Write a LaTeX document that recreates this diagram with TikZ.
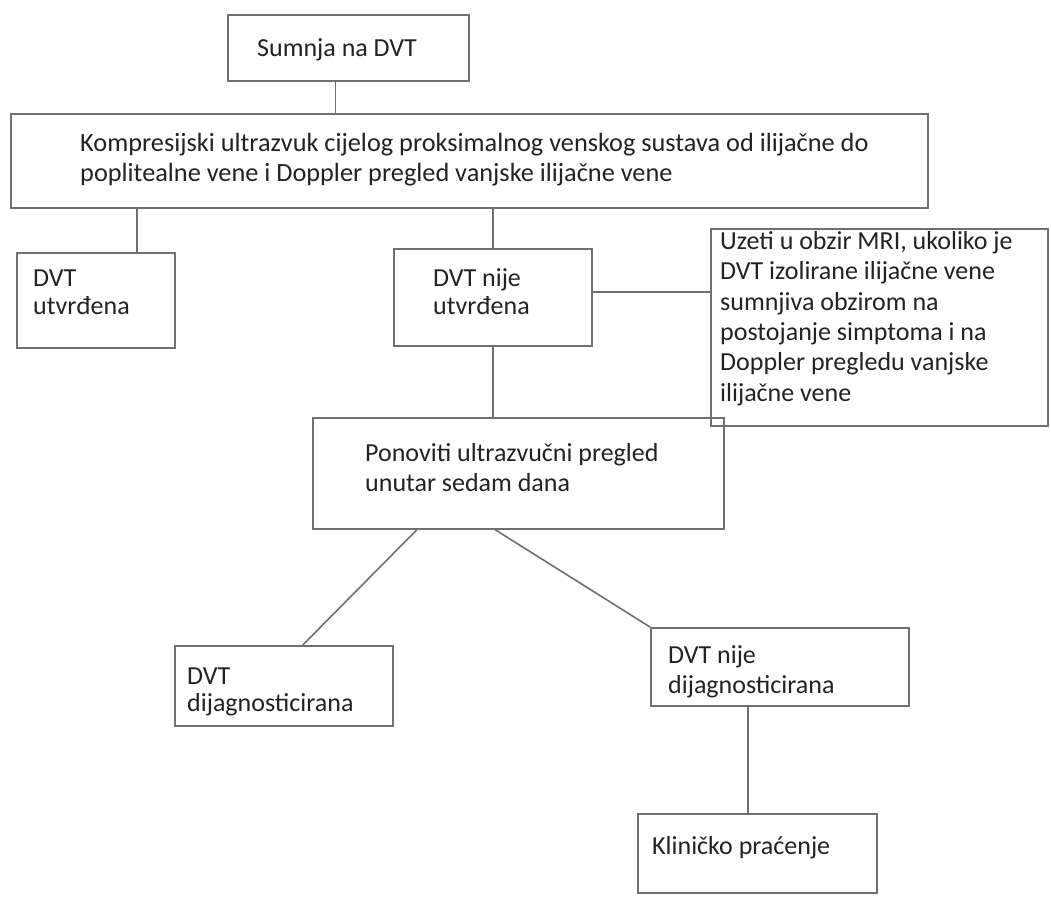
\documentclass[tikz,border=0pt]{standalone}
\usepackage{fontspec}
\setmainfont{Carlito}
\usepackage{tikz}
\definecolor{edgegray}{RGB}{112,112,112}
\definecolor{textdark}{RGB}{34,34,34}
\tikzset{
	box/.style = {draw = edgegray, line width = 1.6pt, rectangle, inner sep = 0pt, anchor = north west},
	txt/.style = {anchor = north west, inner sep = 0pt, align = left, text = textdark, font = \fontsize{26}{30.5}\selectfont},
	lskip/.style = {font = \fontsize{26}{#1}\selectfont},
	conn/.style = {draw = edgegray, line width = 1.6pt}
}

\begin{document}
\begin{tikzpicture}[x = 1pt, y = -1pt]
	\useasboundingbox (0,0) rectangle (1051,904);
	\node [box, minimum width = 241pt, minimum height = 66pt, label = {[txt, xshift = 30pt, yshift = -24pt]north west:Sumnja na DVT}] (sumnja) at (227,14) {};
	\node [box, minimum width = 917pt, minimum height = 94pt, label = {[txt, font = \fontsize{26.3}{30}\selectfont, xshift = 70pt, yshift = -20pt]north west:{Kompresijski ultrazvuk cijelog proksimalnog venskog sustava od ilijačne do\\poplitealne vene i Doppler pregled vanjske ilijačne vene}}] (komp) at (10,113) {};
	\node [box, minimum width = 158pt, minimum height = 95pt, label = {[txt, lskip = 28, xshift = 17pt, yshift = -18pt]north west:{DVT\\utvrđena}}] (utv) at (16,252) {};
	\node [box, minimum width = 198pt, minimum height = 97pt, label = {[txt, lskip = 28, xshift = 40pt, yshift = -20pt]north west:{DVT nije\\utvrđena}}] (nije) at (393,248) {};
	\node [box, minimum width = 337pt, minimum height = 197pt, label = {[txt, lskip = 30.4, xshift = 10pt, yshift = -3pt]north west:{Uzeti u obzir MRI, ukoliko je\\DVT izolirane ilijačne vene\\sumnjiva obzirom na\\postojanje simptoma i na\\Doppler pregledu vanjske\\ilijačne vene}}] (uzeti) at (710,228) {};
	\node [box, minimum width = 411pt, minimum height = 111pt, label = {[txt, lskip = 30, xshift = 53pt, yshift = -26pt]north west:{Ponoviti ultrazvučni pregled\\unutar sedam dana}}] (ponov) at (312,417) {};
	\node [box, minimum width = 218pt, minimum height = 80pt, label = {[txt, lskip = 27, xshift = 13pt, yshift = -23pt]north west:{DVT\\dijagnosticirana}}] (dijag) at (174,645) {};
	\node [box, minimum width = 258pt, minimum height = 78pt, label = {[txt, lskip = 30, xshift = 18pt, yshift = -18pt]north west:{DVT nije\\dijagnosticirana}}] (nijed) at (650,627) {};
	\node [box, minimum width = 239pt, minimum height = 79pt, label = {[txt, xshift = 15pt, yshift = -23pt]north west:Kliničko praćenje}] (klin) at (637,813) {};

	\draw [conn] ([xshift = -13pt]sumnja.south) -- ([xshift = -13pt]sumnja.south |- komp.north);
	\draw [conn] ([xshift = 127pt]komp.south west) -- ([xshift = 127pt]komp.south west |- utv.north);
	\draw [conn] (nije.north |- komp.south) -- (nije.north);
	\draw [conn] ([yshift = 5.5pt]nije.east) -- ([yshift = 5.5pt]nije.east -| uzeti.west);
	\draw [conn] (nije.south) -- (nije.south |- ponov.north);
	\draw [conn] ([xshift = 105pt]ponov.south west) -- ([xshift = 19pt]dijag.north);
	\draw [conn] ([xshift = 183pt]ponov.south west) -- (nijed.north west);
	\draw [conn] ([xshift = -32pt]nijed.south) -- ([xshift = -32pt]nijed.south |- klin.north);
\end{tikzpicture}
\end{document}
